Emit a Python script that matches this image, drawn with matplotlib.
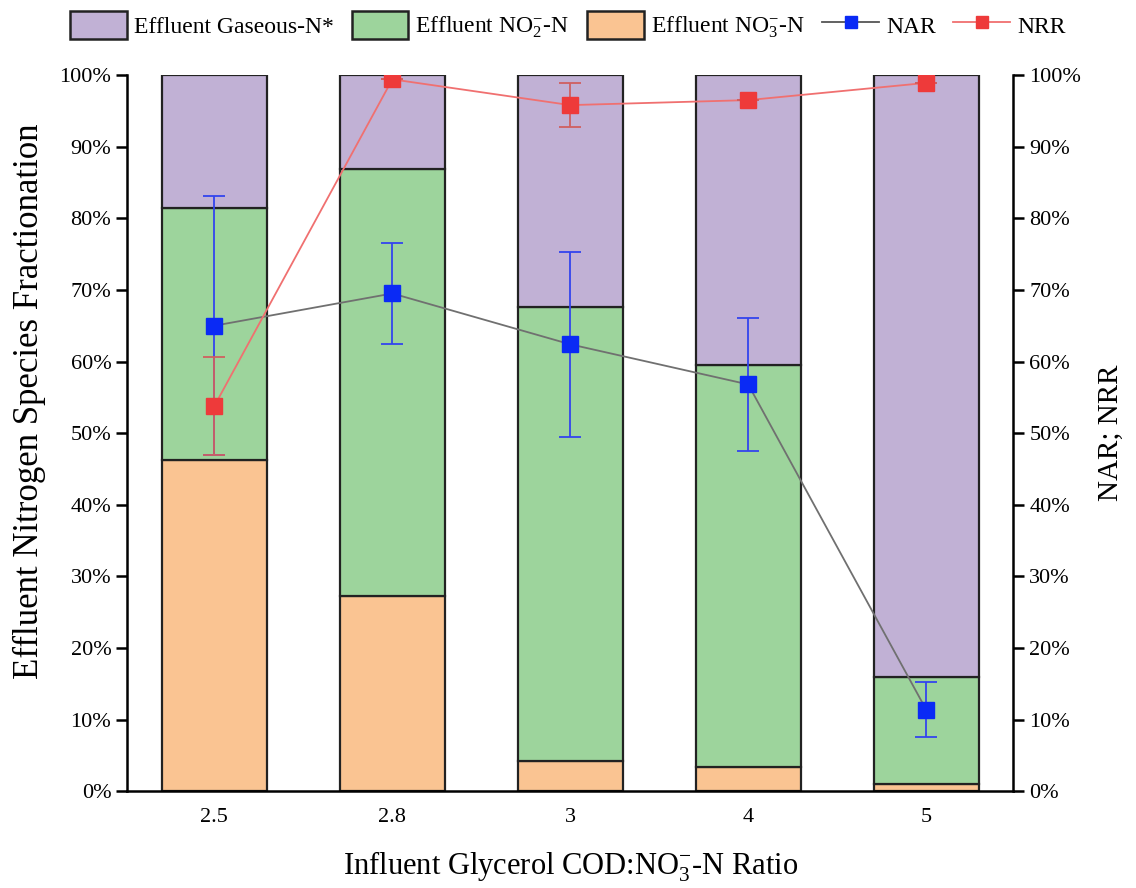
import matplotlib
matplotlib.use("Agg")
import matplotlib.pyplot as plt
import numpy as np
from matplotlib.ticker import PercentFormatter
from matplotlib.patches import Patch
from matplotlib.lines import Line2D

plt.rcParams['font.family'] = ['Liberation Serif', 'DejaVu Serif']
plt.rcParams['mathtext.fontset'] = 'custom'
plt.rcParams['mathtext.rm'] = 'Liberation Serif'
plt.rcParams['mathtext.it'] = 'Liberation Serif:italic'

categories = ["2.5", "2.8", "3", "4", "5"]
no3 = [46.2, 27.2, 4.2, 3.4, 1.0]
no2 = [35.2, 59.7, 63.4, 56.1, 14.9]
gas = [18.6, 13.1, 32.4, 40.5, 84.1]
nar = [65.0, 69.5, 62.4, 56.8, 11.4]
nar_err = [18.1, 7.0, 12.9, 9.3, 3.8]
nrr = [53.8, 99.4, 95.8, 96.5, 98.9]
nrr_err = [6.8, 0.0, 3.1, 0.0, 0.0]

c_gas = '#C1B1D5'
c_no2 = '#9DD49C'
c_no3 = '#FAC492'
c_blue = '#0A2AF5'
c_red = '#EE3A3A'

fig = plt.figure(figsize=(11.36, 8.88), dpi=100)
ax = fig.add_axes([0.112, 0.109, 0.780, 0.8065])
x = np.arange(len(categories))
w = 0.59
ax.bar(x, no3, w, color=c_no3, edgecolor='#222222', linewidth=1.6, zorder=2)
ax.bar(x, no2, w, bottom=no3, color=c_no2, edgecolor='#222222', linewidth=1.6, zorder=2)
b2 = np.array(no3) + np.array(no2)
ax.bar(x, gas, w, bottom=b2, color=c_gas, edgecolor='#222222', linewidth=1.6, zorder=2)

ax.set_xlim(-0.49, 4.49)
ax.set_ylim(0, 100)
ax.set_yticks(np.arange(0, 101, 10))
ax.yaxis.set_major_formatter(PercentFormatter(decimals=0))
ax.set_xticks(x)
ax.set_xticklabels(categories)
ax.tick_params(axis='x', length=0, labelsize=16, pad=12)
ax.tick_params(axis='y', direction='out', length=8, width=1.8, labelsize=16)
for s in ['top', 'right']:
    ax.spines[s].set_visible(False)
ax.spines['left'].set_linewidth(1.8)
ax.spines['bottom'].set_linewidth(1.8)
ax.set_ylabel('Effluent Nitrogen Species Fractionation', fontsize=25)
ax.yaxis.set_label_coords(-0.092, 0.545)
ax.set_xlabel('Influent Glycerol COD:NO$_3^{-}$-N Ratio', fontsize=22, labelpad=16)

ax2 = ax.twinx()
ax2.set_ylim(0, 100)
ax2.set_yticks(np.arange(0, 101, 10))
ax2.yaxis.set_major_formatter(PercentFormatter(decimals=0))
ax2.tick_params(axis='y', direction='out', length=8, width=1.8, labelsize=16)
for s in ['top', 'left', 'bottom']:
    ax2.spines[s].set_visible(False)
ax2.spines['right'].set_linewidth(1.8)
ax2.set_ylabel('NAR; NRR', fontsize=21, labelpad=12)

ax2.plot(x, nar, color='#707070', lw=1.3, zorder=3)
ax2.errorbar(x, nar, yerr=nar_err, fmt='none', ecolor='#3344EE', elinewidth=1.3, capsize=8, capthick=1.3, zorder=4)
ax2.plot(x, nar, 's', color=c_blue, ms=11, zorder=5)

ax2.plot(x, nrr, color='#F07070', lw=1.3, zorder=3)
ax2.errorbar(x, nrr, yerr=nrr_err, fmt='none', ecolor='#D06060', elinewidth=1.3, capsize=8, capthick=1.3, zorder=4)
ax2.plot(x, nrr, 's', color=c_red, ms=11, zorder=5)

handles = [
    Patch(facecolor=c_gas, edgecolor='#222222', linewidth=1.8),
    Patch(facecolor=c_no2, edgecolor='#222222', linewidth=1.8),
    Patch(facecolor=c_no3, edgecolor='#222222', linewidth=1.8),
    Line2D([], [], color='#555555', lw=1.3, marker='s', mfc=c_blue, mec=c_blue, ms=9),
    Line2D([], [], color='#F07070', lw=1.3, marker='s', mfc=c_red, mec=c_red, ms=9),
]
labels = ['Effluent Gaseous-N*', 'Effluent NO$_2^{-}$-N', 'Effluent NO$_3^{-}$-N', 'NAR', 'NRR']
fig.legend(handles, labels, loc='upper center', bbox_to_anchor=(0.5, 1.012), ncol=5,
           frameon=False, fontsize=17, handlelength=2.4, handleheight=1.5,
           columnspacing=0.75, handletextpad=0.3)

fig.savefig('out.png', dpi=100)
